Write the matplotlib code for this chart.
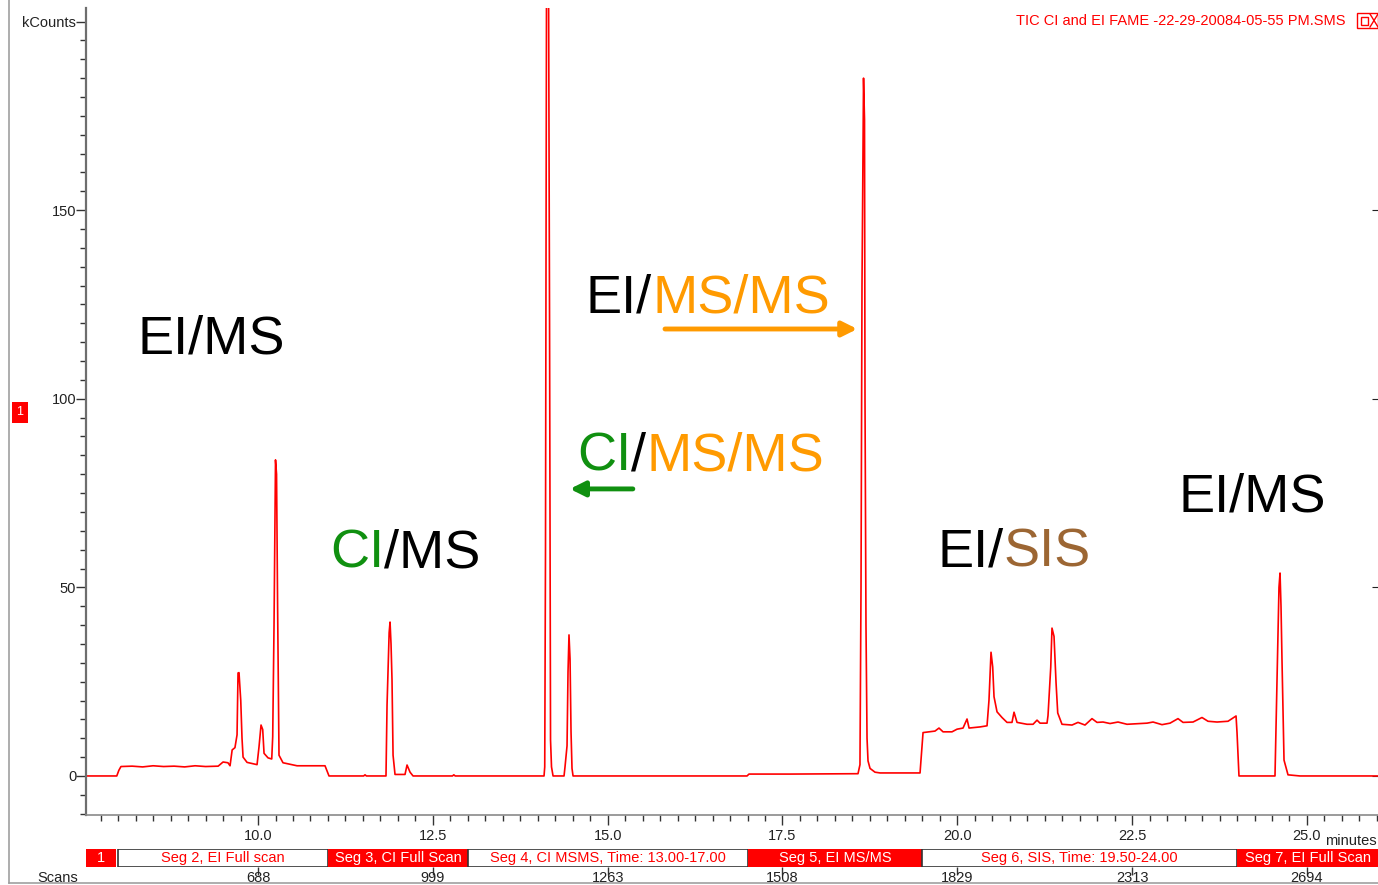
import matplotlib
matplotlib.use("Agg")
import matplotlib.pyplot as plt
from matplotlib.patches import Rectangle
from matplotlib.lines import Line2D
from matplotlib.ticker import MultipleLocator

plt.rcParams['font.family'] = ['Liberation Sans', 'DejaVu Sans']

# TIC trace: retention time (min) / intensity (kCounts)
rt_min = [7.54, 7.98, 8.01, 8.04, 8.20, 8.35, 8.50, 8.65, 8.80, 8.95, 9.10, 9.25, 9.43,
          9.50, 9.57, 9.60, 9.63, 9.67, 9.70, 9.714, 9.728, 9.753, 9.771, 9.786, 9.843,
          9.986, 10.014, 10.043, 10.067, 10.086, 10.143, 10.196, 10.210, 10.229, 10.250,
          10.265, 10.280, 10.300, 10.357, 10.558, 10.958, 11.015, 11.51, 11.53, 11.55,
          11.830, 11.845, 11.875, 11.888, 11.902, 11.916, 11.931, 11.959, 12.102, 12.131,
          12.174, 12.217, 12.78, 12.80, 12.82, 14.090, 14.100, 14.111, 14.126, 14.154,
          14.169, 14.183, 14.197, 14.219, 14.376, 14.390, 14.419, 14.433, 14.447, 14.462,
          14.476, 14.490, 14.505, 16.993, 17.021, 17.61, 18.580, 18.608, 18.623, 18.637,
          18.659, 18.673, 18.680, 18.694, 18.709, 18.723, 18.752, 18.823, 18.895, 19.467,
          19.510, 19.681, 19.738, 19.796, 19.924, 19.996, 20.082, 20.139, 20.168, 20.325,
          20.425, 20.453, 20.482, 20.506, 20.525, 20.568, 20.639, 20.711, 20.782, 20.811,
          20.854, 20.997, 21.083, 21.140, 21.183, 21.283, 21.297, 21.336, 21.354, 21.383,
          21.412, 21.436, 21.497, 21.640, 21.726, 21.826, 21.926, 21.998, 22.084, 22.184,
          22.298, 22.427, 22.713, 22.799, 22.927, 23.042, 23.156, 23.228, 23.371, 23.499,
          23.585, 23.714, 23.871, 23.986, 24.000, 24.028, 24.543, 24.572, 24.600, 24.615,
          24.629, 24.643, 24.672, 24.729, 24.900, 26.02]
tic_kcounts = [0, 0, 1.5, 2.5, 2.6, 2.4, 2.7, 2.5, 2.6, 2.4, 2.7, 2.5, 2.6,
               3.7, 3.5, 2.7, 6.9, 7.5, 10.9, 27.3, 27.4, 20.0, 10.0, 5.0, 3.6,
               3.0, 7.7, 13.5, 12.3, 6.0, 4.8, 4.5, 10.4, 40.0, 83.8,
               80.0, 45.0, 5.5, 3.5, 2.7, 2.7, 0, 0, 0.3, 0,
               0, 18.8, 38.0, 40.8, 35.0, 25.5, 5.5, 0.4, 0.4, 2.9,
               1.0, 0, 0, 0.3, 0, 0, 2.4, 60, 215, 215,
               120, 9.5, 2.4, 0, 0, 2.4, 8.0, 27.6, 37.4, 31.0,
               11.7, 2.0, 0, 0, 0.5, 0.5, 0.6, 3.0, 50, 130,
               185, 174, 100, 40, 10, 4.0, 2.0, 1.0, 0.8, 0.8,
               11.5, 11.9, 12.7, 11.7, 11.7, 12.4, 12.7, 15.1, 12.7, 13.0,
               13.3, 20.1, 32.8, 28.9, 21.0, 17.0, 15.5, 14.2, 14.2, 16.9,
               14.2, 13.7, 13.7, 14.8, 14.0, 14.0, 16.0, 28.8, 39.2, 37.0,
               24.7, 16.7, 13.7, 13.5, 14.2, 13.5, 15.2, 14.2, 14.3, 13.9,
               14.3, 13.7, 14.0, 14.3, 13.6, 14.0, 15.2, 14.2, 14.3, 15.5,
               14.5, 14.3, 14.5, 15.9, 11.5, 0, 0, 25.5, 50.0, 53.8,
               45.0, 30.8, 4.2, 0.3, 0, 0]

# acquisition segments
seg_start = [7.54, 8.0, 11.0, 13.0, 17.0, 19.5, 24.0]
seg_end = [7.97, 11.0, 13.0, 17.0, 19.5, 24.0, 26.1]
seg_label = ['1', 'Seg 2, EI Full scan', 'Seg 3, CI Full Scan',
             'Seg 4, CI MSMS, Time: 13.00-17.00', 'Seg 5, EI MS/MS',
             'Seg 6, SIS, Time: 19.50-24.00', 'Seg 7, EI Full Scan']
seg_filled = [True, False, True, False, True, False, True]

scan_times = [10.0, 12.5, 15.0, 17.5, 20.0, 22.5, 25.0]
scan_numbers = [688, 999, 1263, 1508, 1829, 2313, 2694]

RED = '#FF0000'
GREEN = '#109010'
ORANGE = '#FF9A00'
BROWN = '#9C6633'

W, H = 1378, 885
fig = plt.figure(figsize=(W / 100, H / 100), dpi=100)


def fx(px):
    return px / W


def fy(py):
    return 1 - py / H


ax = fig.add_axes([fx(86), fy(815), fx(1378) - fx(86), fy(8) - fy(815)])
ax.plot(rt_min, tic_kcounts, color=RED, lw=1.2)
ax.set_xlim(7.54, 26.016)
ax.set_ylim(-10.35, 203.6)

for s in ['top', 'right']:
    ax.spines[s].set_visible(False)
ax.spines['left'].set_color('#6E6E6E')
ax.spines['left'].set_linewidth(1.6)
ax.spines['bottom'].set_color('#8A8A8A')
ax.spines['bottom'].set_linewidth(1.2)

ax.set_yticks([0, 50, 100, 150, 200])
ax.set_yticklabels(['0', '50', '100', '150', 'kCounts'])
ax.yaxis.set_minor_locator(MultipleLocator(5))
ax.tick_params(axis='y', which='major', length=7, width=1, color='#333333',
               labelsize=10.5, labelcolor='#222222', pad=0)
ax.tick_params(axis='y', which='minor', length=4, width=1, color='#333333')

ax.xaxis.set_major_locator(MultipleLocator(2.5))
ax.xaxis.set_minor_locator(MultipleLocator(0.25))
ax.xaxis.set_major_formatter(plt.FormatStrFormatter('%.1f'))
ax.tick_params(axis='x', which='major', length=7, width=1, color='#333333',
               labelsize=10.5, labelcolor='#222222', pad=3)
ax.tick_params(axis='x', which='minor', length=4, width=1, color='#333333')

# short marks on the right edge
right = ax.secondary_yaxis('right')
right.set_yticks([0, 50, 100, 150])
right.set_yticklabels([])
right.tick_params(direction='in', length=4, color='#222222')
right.spines['right'].set_visible(False)


def multicolor(x, y, parts, size=39):
    t = ax.text(x, y, parts[0][0], color=parts[0][1], fontsize=size,
                ha='left', va='baseline')
    for s, c in parts[1:]:
        t = ax.annotate(s, xy=(1, 0), xycoords=t, color=c, fontsize=size,
                        ha='left', va='bottom')


multicolor(8.28, 111.9, [('EI/MS', 'black')])
multicolor(11.03, 55.2, [('CI', GREEN), ('/MS', 'black')])
multicolor(14.69, 123.0, [('EI/', 'black'), ('MS/MS', ORANGE)])
multicolor(14.56, 80.9, [('CI', GREEN), ('/', 'black'), ('MS/MS', ORANGE)])
multicolor(19.72, 55.4, [('EI/', 'black'), ('SIS', BROWN)])
multicolor(23.16, 70.0, [('EI/MS', 'black')])

ax.annotate('', xy=(18.57, 118.5), xytext=(15.82, 118.5),
            arrowprops=dict(arrowstyle='-|>', color=ORANGE, lw=3.5, mutation_scale=22,
                            shrinkA=0, shrinkB=0))
ax.annotate('', xy=(14.46, 76.1), xytext=(15.36, 76.1),
            arrowprops=dict(arrowstyle='-|>', color=GREEN, lw=3.5, mutation_scale=22,
                            shrinkA=0, shrinkB=0))

fig.text(fx(1377), fy(841), 'minutes', ha='right', va='center', fontsize=10.5,
         color='#222222')

# segment bar with scan numbers underneath
seg = fig.add_axes([fx(86), fy(867), fx(1378) - fx(86), fy(849) - fy(867)])
seg.set_xlim(ax.get_xlim())
seg.set_ylim(0, 1)
for s in seg.spines.values():
    s.set_visible(False)
seg.set_yticks([])
for s0, s1, lab, filled in zip(seg_start, seg_end, seg_label, seg_filled):
    if filled:
        r = Rectangle((s0, 0), s1 - s0, 1, facecolor=RED, edgecolor='none')
    else:
        r = Rectangle((s0, 0.02), s1 - s0, 0.96, facecolor='white',
                      edgecolor='#333333', lw=1.2)
    seg.add_patch(r)
    t = seg.text((s0 + min(s1, 26.016)) / 2, 0.5, lab,
                 color='white' if filled else RED,
                 ha='center', va='center', fontsize=10.5)
    t.set_clip_path(r)
seg.set_xticks(scan_times)
seg.set_xticklabels([str(n) for n in scan_numbers])
seg.tick_params(axis='x', length=6, width=1, color='#333333', labelsize=10.5,
                labelcolor='#222222', pad=-3)
fig.text(fx(78), fy(878), 'Scans', ha='right', va='center', fontsize=10.5,
         color='#222222')

# window furniture
fig.add_artist(Line2D([fx(9), fx(9)], [fy(0), fy(883)], color='#A0A0A0', lw=1.2))
fig.add_artist(Line2D([fx(9), fx(1378)], [fy(883), fy(883)], color='#A0A0A0', lw=1.2))
fig.add_artist(Rectangle((fx(12), fy(423)), fx(16), 21 / H, transform=fig.transFigure,
                         facecolor=RED, edgecolor='none'))
fig.text(fx(20), fy(412), '1', color='white', ha='center', va='center', fontsize=9)

fig.text(fx(1345), fy(21), 'TIC CI and EI FAME -22-29-20084-05-55 PM.SMS',
         color=RED, ha='right', va='center', fontsize=10.5)
fig.add_artist(Rectangle((fx(1357), fy(28)), fx(21), 15 / H, transform=fig.transFigure,
                         facecolor='none', edgecolor=RED, lw=1))
fig.add_artist(Rectangle((fx(1361), fy(25)), fx(7), 8 / H, transform=fig.transFigure,
                         facecolor='none', edgecolor=RED, lw=1))
fig.add_artist(Line2D([fx(1370), fx(1378)], [fy(14), fy(27)], color=RED, lw=1))
fig.add_artist(Line2D([fx(1370), fx(1378)], [fy(27), fy(14)], color=RED, lw=1))

fig.savefig('out.png', dpi=100)
